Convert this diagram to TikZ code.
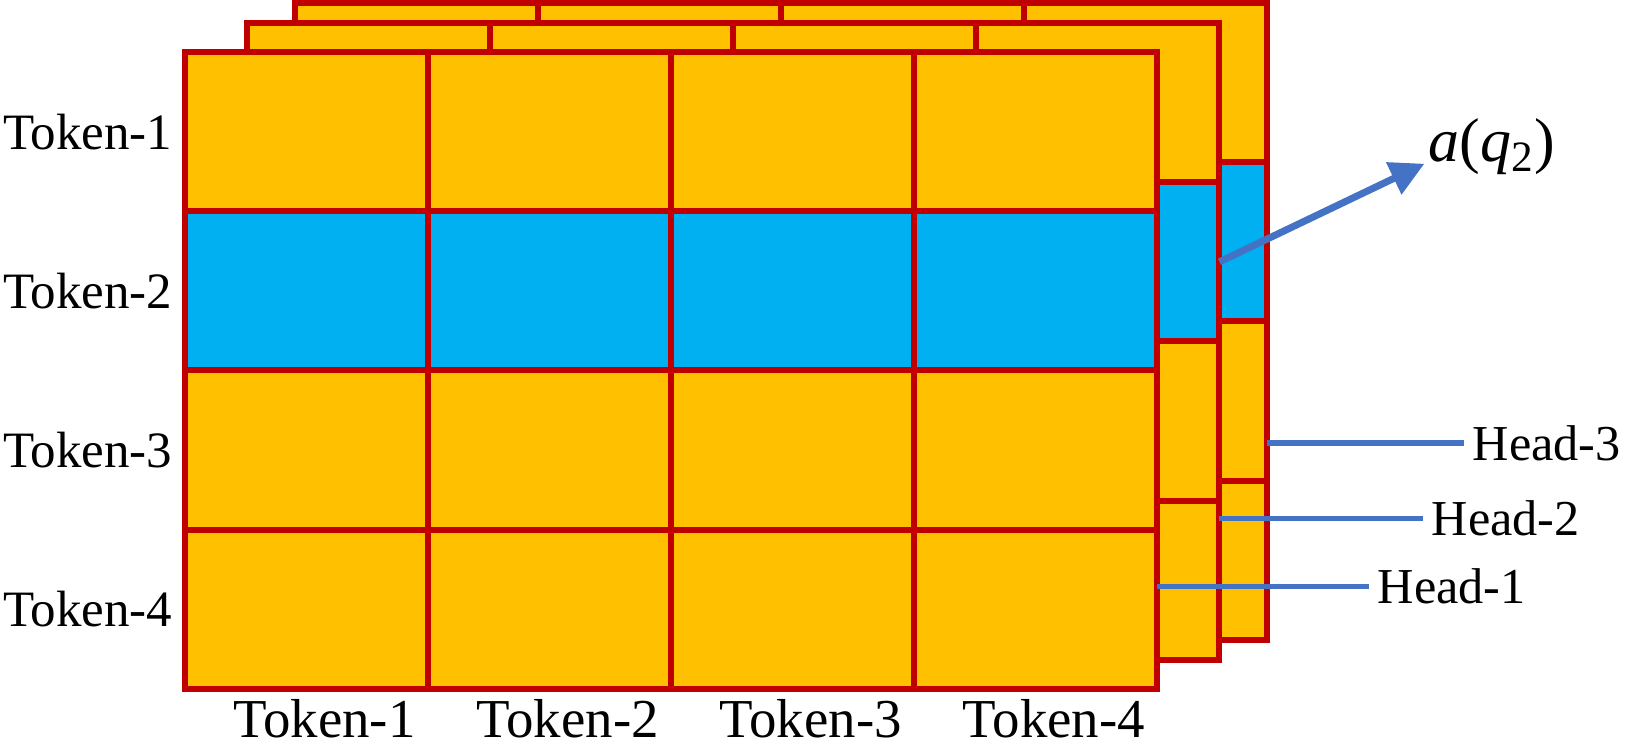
\documentclass[tikz,border=0pt]{standalone}
\usepackage{fontspec}
\setmainfont{Liberation Serif}
\usetikzlibrary{positioning,arrows.meta}
\definecolor{TokOrange}{RGB}{255,192,0}
\definecolor{QueryBlue}{RGB}{0,176,240}
\definecolor{GridRed}{RGB}{192,0,0}
\definecolor{LineBlue}{RGB}{68,114,196}

\begin{document}
\begin{tikzpicture}[
    x=0.01cm, y=-0.01cm,
    cell/.style={rectangle, draw=GridRed, line width=0.06cm, fill=TokOrange,
        minimum width=2.431cm, minimum height=1.5925cm, inner sep=0pt, outer sep=0pt},
    rowlab/.style={font=\fontsize{14.5}{17}\selectfont, inner sep=0pt},
    collab/.style={font=\fontsize{15.6}{18}\selectfont, inner sep=0pt},
    headlab/.style={font=\fontsize{14.3}{17}\selectfont, inner sep=0pt, inner xsep=0.08cm, anchor=west},
    headline/.style={line width=0.05cm, LineBlue},
]
\useasboundingbox (0,0) rectangle (1634,749);

% three heads, drawn back to front
\foreach \l/\ox/\oy in {b/295/3, m/247/23, f/185/52} {
  \foreach \r in {1,...,4} {
    \foreach \c in {1,...,4} {
      \ifnum\r=2 \def\fillc{QueryBlue}\else\def\fillc{TokOrange}\fi
      \node[cell, fill=\fillc] (\l-\r-\c) at ({\ox+(\c-0.5)*243.1}, {\oy+(\r-0.5)*159.25}) {};
    }
  }
}

% token labels
\foreach \r in {1,...,4}
  \node[rowlab, left=0.12cm of f-\r-1] (row\r) {Token-\r};
\foreach \c in {1,...,4}
  \node[collab, below=0.1cm of f-4-\c, xshift=0.18cm] (col\c) {Token-\c};

% head labels
\node[headlab] (h3) at (1464,443) {Head-3};
\node[headlab] (h2) at (1423,518) {Head-2};
\node[headlab] (h1) at (1369,586) {Head-1};
\draw[headline] (h3.west) -- (h3.west -| b-3-4.east);
\draw[headline] (h2.west) -- (h2.west -| m-4-4.east);
\draw[headline] (h1.west) -- (h1.west -| f-4-4.east);

% attention output of query 2
\node[font=\fontsize{17.6}{20}\selectfont, inner sep=0pt, anchor=base west] (aq) at (1428,162)
  {\textit{a}(\textit{q}\textsubscript{2})};
\draw[LineBlue, line width=0.07cm, -{Triangle[length=0.34cm, width=0.34cm]}, shorten >=0.04cm]
  (m-2-4.east) -- (aq.base west);
\end{tikzpicture}
\end{document}
